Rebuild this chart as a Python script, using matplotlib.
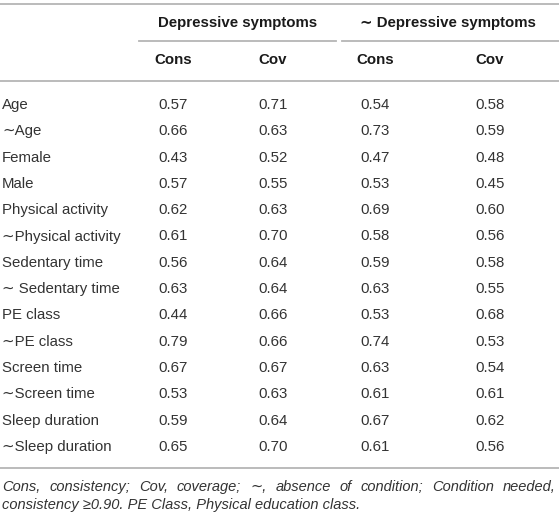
import matplotlib
matplotlib.use("Agg")
import matplotlib.pyplot as plt

# ---- data ----
row_labels = ["Age", "\u223cAge", "Female", "Male", "Physical activity",
              "\u223cPhysical activity", "Sedentary time", "\u223c Sedentary time",
              "PE class", "\u223cPE class", "Screen time", "\u223cScreen time",
              "Sleep duration", "\u223cSleep duration"]
dep_cons = [0.57, 0.66, 0.43, 0.57, 0.62, 0.61, 0.56, 0.63, 0.44, 0.79, 0.67, 0.53, 0.59, 0.65]
dep_cov = [0.71, 0.63, 0.52, 0.55, 0.63, 0.70, 0.64, 0.64, 0.66, 0.66, 0.67, 0.63, 0.64, 0.70]
nodep_cons = [0.54, 0.73, 0.47, 0.53, 0.69, 0.58, 0.59, 0.63, 0.53, 0.74, 0.63, 0.61, 0.67, 0.61]
nodep_cov = [0.58, 0.59, 0.48, 0.45, 0.60, 0.56, 0.58, 0.55, 0.68, 0.53, 0.54, 0.61, 0.62, 0.56]
group_headers = ["Depressive symptoms", "\u223c Depressive symptoms"]
sub_headers = ["Cons", "Cov", "Cons", "Cov"]
footnote_line1 = ["Cons,", "consistency;", "Cov,", "coverage;", "\u223c,", "absence", "of",
                  "condition;", "Condition", "needed,"]
footnote_line2 = "consistency \u22650.90. PE Class, Physical education class."

W, H = 559, 518
fig = plt.figure(figsize=(W / 100, H / 100), dpi=100)
ax = fig.add_axes([0, 0, 1, 1])
ax.set_xlim(0, W)
ax.set_ylim(H, 0)
ax.axis("off")

font = ["Liberation Sans", "DejaVu Sans"]
fs = 10.8
fs_note = 10.5
txt = "#333333"
head_c = "#1a1a1a"
line_c = "#b5b5b5"

col_x = [173, 273, 375, 490]
group_x = [238, 448]
row_y0, row_dy = 105, 26.3

# rules
ax.plot([0, W], [4, 4], color=line_c, lw=1.3)
ax.plot([139, 336], [41, 41], color=line_c, lw=1.3)
ax.plot([342, W], [41, 41], color=line_c, lw=1.3)
ax.plot([0, W], [81, 81], color=line_c, lw=1.3)
ax.plot([0, W], [468, 468], color=line_c, lw=1.3)

for gx, g in zip(group_x, group_headers):
    ax.text(gx, 23, g, ha="center", va="center", fontsize=fs, fontweight="bold",
            family=font, color=head_c)
for cx, s in zip(col_x, sub_headers):
    ax.text(cx, 60, s, ha="center", va="center", fontsize=fs, fontweight="bold",
            family=font, color=head_c)

cols = [dep_cons, dep_cov, nodep_cons, nodep_cov]
for i, lab in enumerate(row_labels):
    y = row_y0 + i * row_dy
    ax.text(2, y, lab, ha="left", va="center", fontsize=fs, family=font, color=txt)
    for cx, col in zip(col_x, cols):
        ax.text(cx, y, f"{col[i]:.2f}", ha="center", va="center", fontsize=fs,
                family=font, color=txt)

# justified first footnote line
fig.canvas.draw()
r = fig.canvas.get_renderer()
words = [ax.text(0, 487, w, ha="left", va="center", fontsize=fs_note, style="italic",
                 family=font, color=txt) for w in footnote_line1]
inv = ax.transData.inverted()
widths = []
for t in words:
    bb = t.get_window_extent(r)
    x0 = inv.transform((bb.x0, bb.y0))[0]
    x1 = inv.transform((bb.x1, bb.y0))[0]
    widths.append(x1 - x0)
left, right = 2, 556
gap = (right - left - sum(widths)) / (len(words) - 1)
x = left
for t, w in zip(words, widths):
    t.set_x(x)
    x += w + gap

ax.text(left, 505, footnote_line2, ha="left", va="center", fontsize=fs_note,
        style="italic", family=font, color=txt)

fig.savefig("out.png", dpi=100)
